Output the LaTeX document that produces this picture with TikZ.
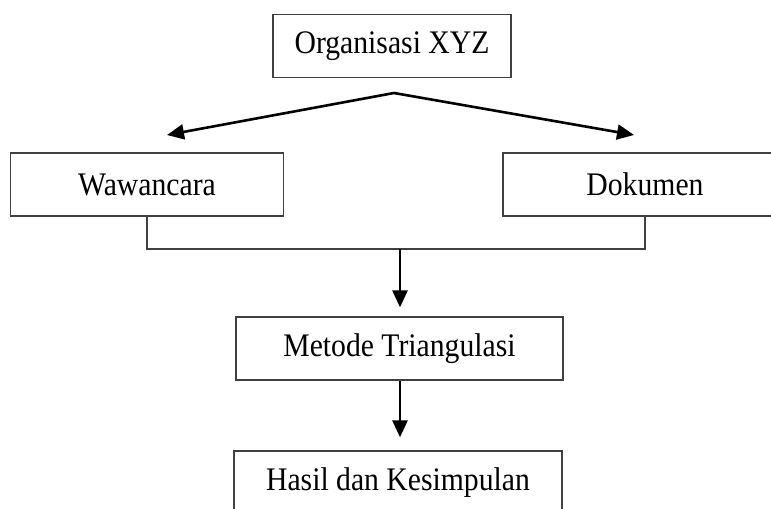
\documentclass[tikz,border=0pt]{standalone}
\usepackage{fontspec}
\setmainfont{Liberation Serif}
\usetikzlibrary{arrows.meta,positioning}

\newcommand{\tallword}[1]{\scalebox{1.01}[1.12]{#1}}

\begin{document}
\begin{tikzpicture}[
  x=1bp, y=-1bp,
  font=\fontsize{29.5}{34}\selectfont,
  flowbox/.style={draw=black!75, line width=1.3bp, minimum height=63bp, inner sep=0pt},
  flowline/.style={draw=black!75, line width=1.3bp},
  flowarrow/.style={line width=2.6bp, -{Triangle[length=17bp,width=15bp]}}
]
\useasboundingbox (0,0) rectangle (771,509);
\clip (0,0) rectangle (771,509);

\node[flowbox, minimum width=238bp] (org) at (392,46) {\tallword{Organisasi XYZ}};
\node[flowbox, minimum width=273bp] (waw) at (147,184.5) {\tallword{Wawancara}};
\node[flowbox, minimum width=284bp] (dok) at (645,184.5) {\tallword{Dokumen}};
\node[flowbox, minimum width=327bp] (tri) at (399.5,348.5) {\tallword{Metode Triangulasi}};
\node[flowbox, minimum width=328bp] (hasil) at (398,482.5) {\tallword{Hasil dan Kesimpulan}};

% split from the top box
\coordinate (apex) at (394,93);
\coordinate (tipL) at (167,135);
\coordinate (tipR) at (634,135);
\draw[flowarrow] (apex) -- (tipL);
\draw[flowarrow] (apex) -- (tipR);

% both sources joined
\coordinate (join) at (400,249);
\draw[flowline] (waw.south) |- (join) -| (dok.south);
\draw[flowarrow, shorten >=9bp] (join) -- (join |- tri.north);
\draw[flowarrow, shorten >=13bp] (join |- tri.south) -- (join |- hasil.north);
\end{tikzpicture}
\end{document}
